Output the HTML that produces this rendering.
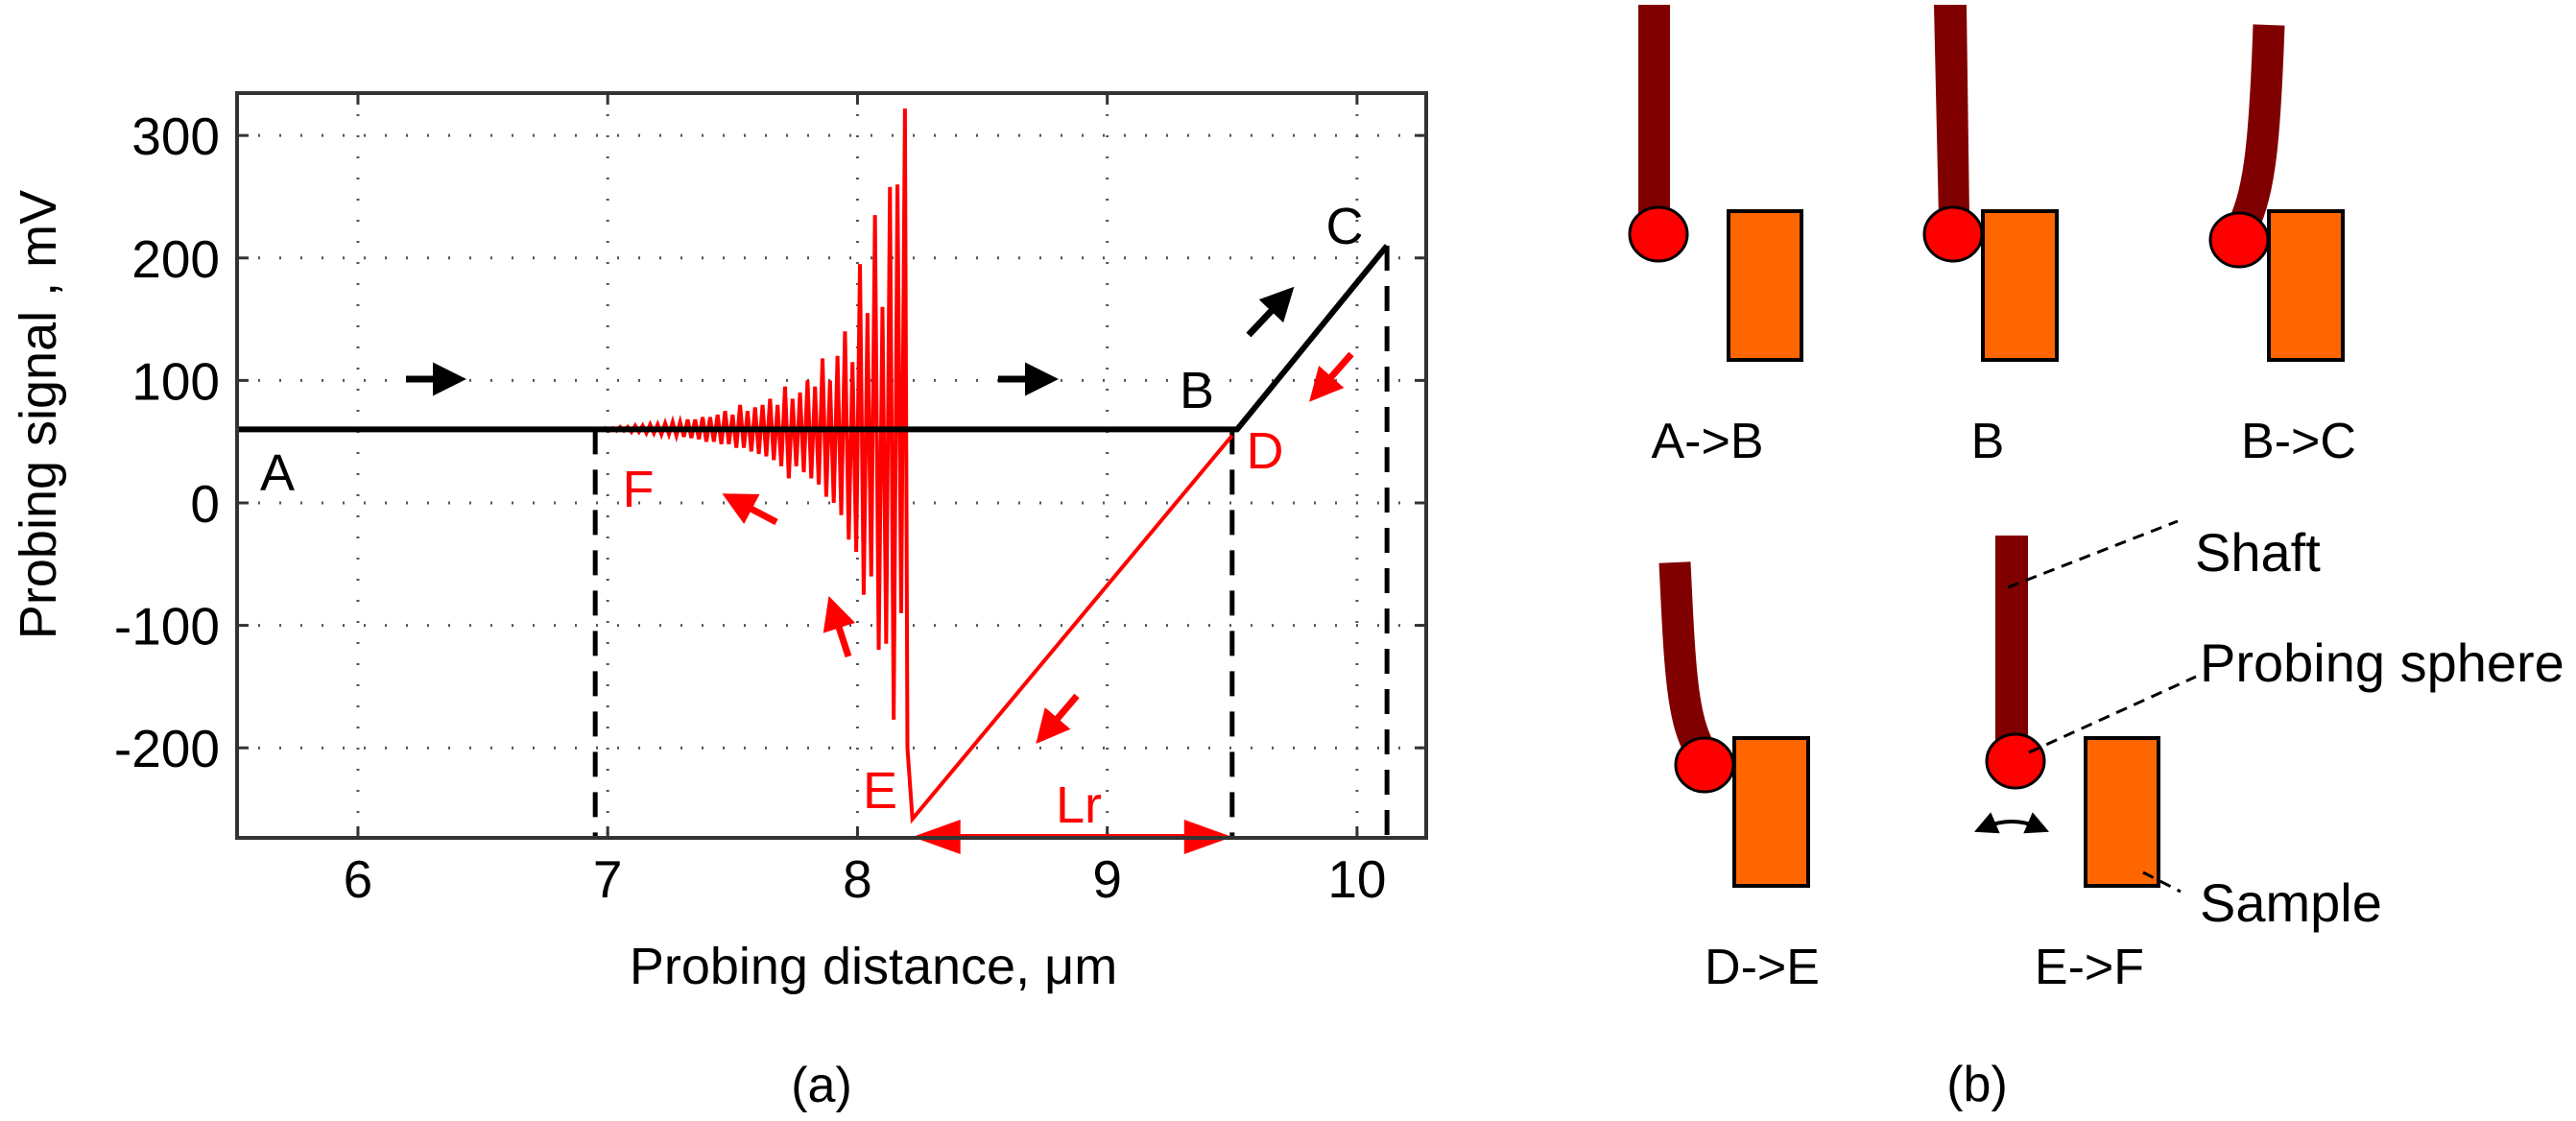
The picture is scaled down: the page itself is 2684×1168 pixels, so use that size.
<!DOCTYPE html>
<html><head><meta charset="utf-8">
<style>
html,body{margin:0;padding:0;background:#fff;}
svg{display:block;font-family:"Liberation Sans",Arial,sans-serif;}
</style></head>
<body>
<svg id="fig" width="2684" height="1168" viewBox="0 0 2684 1168" xmlns="http://www.w3.org/2000/svg">
<defs>
<marker id="ahR" markerWidth="5" markerHeight="5" refX="2" refY="2.5" orient="auto" markerUnits="strokeWidth"><path d="M0,0 L5,2.5 L0,5 z" fill="#f00"/></marker>
<marker id="ahK" markerWidth="5" markerHeight="5" refX="2" refY="2.5" orient="auto" markerUnits="strokeWidth"><path d="M0,0 L5,2.5 L0,5 z" fill="#000"/></marker>
<marker id="ahK2" markerWidth="6" markerHeight="6" refX="3" refY="3" orient="auto-start-reverse" markerUnits="strokeWidth"><path d="M0,0 L6,3 L0,6 z" fill="#000"/></marker>
</defs>
<g id="chart"></g>

<g id="panel-b">
  <g>
    <rect x="1707" y="5" width="33" height="222" fill="#800000"/>
    <ellipse cx="1728" cy="244" rx="30" ry="28" fill="#f00" stroke="#000" stroke-width="3"/>
    <rect x="1801" y="220" width="76" height="155" fill="#ff6600" stroke="#000" stroke-width="4"/>
    <text x="1779" y="477" font-size="52" text-anchor="middle">A-&gt;B</text>
  </g>
  <g>
    <path d="M2015,5 L2049,5 L2052,227 L2020,227 Z" fill="#800000"/>
    <ellipse cx="2035" cy="244" rx="30" ry="28" fill="#f00" stroke="#000" stroke-width="3"/>
    <rect x="2066" y="220" width="77" height="155" fill="#ff6600" stroke="#000" stroke-width="4"/>
    <text x="2071" y="477" font-size="52" text-anchor="middle">B</text>
  </g>
  <g>
    <path d="M2364,26 C2360,140 2355,200 2337,235" fill="none" stroke="#800000" stroke-width="33"/>
    <ellipse cx="2333" cy="250" rx="30" ry="28" fill="#f00" stroke="#000" stroke-width="3"/>
    <rect x="2364" y="220" width="77" height="155" fill="#ff6600" stroke="#000" stroke-width="4"/>
    <text x="2395" y="477" font-size="52" text-anchor="middle">B-&gt;C</text>
  </g>
  <g>
    <path d="M1745,586 C1750,690 1752,750 1772,782" fill="none" stroke="#800000" stroke-width="33"/>
    <ellipse cx="1776" cy="797" rx="30" ry="28" fill="#f00" stroke="#000" stroke-width="3"/>
    <rect x="1807" y="769" width="77" height="154" fill="#ff6600" stroke="#000" stroke-width="4"/>
    <text x="1836" y="1025" font-size="52" text-anchor="middle">D-&gt;E</text>
  </g>
  <g>
    <rect x="2079" y="558" width="34" height="222" fill="#800000"/>
    <ellipse cx="2100" cy="793" rx="30" ry="28" fill="#f00" stroke="#000" stroke-width="3"/>
    <rect x="2173" y="769" width="76" height="154" fill="#ff6600" stroke="#000" stroke-width="4"/>
    <path d="M2068,862 Q2096,850 2124,862" fill="none" stroke="#000" stroke-width="4" marker-start="url(#ahK2)" marker-end="url(#ahK2)"/>
    <text x="2177" y="1025" font-size="52" text-anchor="middle">E-&gt;F</text>
  </g>
  <line x1="2092" y1="612" x2="2269" y2="543" stroke="#000" stroke-width="3" stroke-dasharray="12,8"/>
  <line x1="2114" y1="784" x2="2288" y2="705" stroke="#000" stroke-width="3" stroke-dasharray="12,8"/>
  <line x1="2233" y1="909" x2="2272" y2="929" stroke="#000" stroke-width="3" stroke-dasharray="12,8"/>
  <text x="2287" y="595" font-size="56">Shaft</text>
  <text x="2292" y="710" font-size="56">Probing sphere</text>
  <text x="2292" y="960" font-size="56">Sample</text>
  <text x="2060" y="1147" font-size="52" text-anchor="middle">(b)</text>
</g>
</svg>
<script>
// ---- chart data ----
const xTicks = [6, 7, 8, 9, 10];
const yTicks = [-200, -100, 0, 100, 200, 300];
const approachX = [5.516, 9.52];
const approachY = [60, 60];
const pressX = [9.52, 10.12];
const pressY = [60, 210];
const retractX = [9.5, 8.22, 8.20];
const retractY = [55, -258, -200];
const oscX = [8.19,8.16,8.13,8.10,8.07,8.04,8.01,7.98,7.95,7.92,7.89,7.86,7.83,7.80,7.77,7.74,7.71,7.68,7.65,7.62,7.59,7.56,7.53,7.50,7.47,7.44,7.41,7.38,7.35,7.32,7.29,7.26,7.23,7.20,7.17,7.14,7.11,7.08,7.05,7.02,6.99,6.96];
const oscHi = [322,260,258,160,235,155,195,115,140,120,100,118,95,100,90,85,95,80,85,80,78,75,80,72,75,72,70,70,68,68,66,66,65,64,64,63,63,62,62,61,61,60];
const oscLo = [-90,-177,-115,-120,-60,-75,-40,-30,-10,0,5,15,20,25,30,20,30,35,38,40,42,45,45,48,48,50,50,52,53,54,55,56,56,57,57,58,58,59,59,59,60,60];
const dashX = [6.95, 9.5, 10.12];
const dashTop = [60, 60, 210];
const lrRange = [8.22, 9.5];

const NS = "http://www.w3.org/2000/svg";
const L = 247, R = 1486, T = 97, B = 873;
const xMin = 5.516, xMax = 10.277, yMin = -273.5, yMax = 334.6;
const X = v => L + (v - xMin) / (xMax - xMin) * (R - L);
const Y = v => B - (v - yMin) / (yMax - yMin) * (B - T);
const g = document.getElementById('chart');
function mk(tag, attrs, parent) {
  const e = document.createElementNS(NS, tag);
  for (const k in attrs) e.setAttribute(k, attrs[k]);
  (parent || g).appendChild(e);
  return e;
}
xTicks.forEach(t => {
  const l = mk('line', {x1: X(t), x2: X(t), y1: T, y2: B, stroke: '#555', 'stroke-width': 3, 'stroke-dasharray': '2,20'});
  
  
  mk('line', {x1: X(t), x2: X(t), y1: B, y2: B - 12, stroke: '#333', 'stroke-width': 3});
  mk('line', {x1: X(t), x2: X(t), y1: T, y2: T + 12, stroke: '#333', 'stroke-width': 3});
  const tx = mk('text', {x: X(t), y: B + 62, 'font-size': 55, 'text-anchor': 'middle'});
  tx.textContent = t;
  
  
});
yTicks.forEach(t => {
  const l = mk('line', {x1: L, x2: R, y1: Y(t), y2: Y(t), stroke: '#555', 'stroke-width': 3, 'stroke-dasharray': '2,20'});
  
  
  mk('line', {x1: L, x2: L + 12, y1: Y(t), y2: Y(t), stroke: '#333', 'stroke-width': 3});
  mk('line', {x1: R, x2: R - 12, y1: Y(t), y2: Y(t), stroke: '#333', 'stroke-width': 3});
  const tx = mk('text', {x: L - 18, y: Y(t) + 20, 'font-size': 55, 'text-anchor': 'end'});
  tx.textContent = t;
  
  
});
dashX.forEach((d, i) => {
  const l = mk('line', {x1: X(d), x2: X(d), y1: Y(dashTop[i]), y2: B, stroke: '#000', 'stroke-width': 5, 'stroke-dasharray': '26,16'});
  
  
});
let d = '';
retractX.forEach((x, i) => { d += (i ? ' L' : 'M') + X(x) + ',' + Y(retractY[i]); });
oscX.forEach((x, i) => {
  d += ' L' + X(x) + ',' + Y(oscHi[i]) + ' L' + X(x - 0.015) + ',' + Y(oscLo[i]);
});
const red = mk('path', {d: d, fill: 'none', stroke: '#f00', 'stroke-width': 4});


let d2 = '';
approachX.forEach((x, i) => { d2 += (i ? ' L' : 'M') + X(x) + ',' + Y(approachY[i]); });
pressX.forEach((x, i) => { d2 += ' L' + X(x) + ',' + Y(pressY[i]); });
const blk = mk('path', {d: d2, fill: 'none', stroke: '#000', 'stroke-width': 6});


const lr = mk('line', {x1: X(lrRange[0]) + 40, x2: X(lrRange[1]) - 40, y1: B - 1, y2: B - 1, stroke: '#f00', 'stroke-width': 6});


const ah1 = mk('path', {d: `M${X(lrRange[0])},${B-1} l50,-18 l0,36 z`, fill: '#f00'});


const ah2 = mk('path', {d: `M${X(lrRange[1])},${B-1} l-50,-18 l0,36 z`, fill: '#f00'});


const fr = mk('rect', {x: L, y: T, width: R - L, height: B - T, fill: 'none', stroke: '#333', 'stroke-width': 4});


const arrows = [
  [423,395,465,395,'#000'],[1040,395,1082,395,'#000'],[1301,349,1334,314,'#000'],
  [1408,369,1378,403,'#f00'],[809,544,771,524,'#f00'],[884,684,870,641,'#f00'],[1122,725,1093,759,'#f00']
];
arrows.forEach(a => {
  const l = mk('line', {x1: a[0], y1: a[1], x2: a[2], y2: a[3], stroke: a[4], 'stroke-width': 7, 'marker-end': a[4] === '#000' ? 'url(#ahK)' : 'url(#ahR)'});
  
  
});
const labels = [['A',289,492,'#000'],['B',1247,406,'#000'],['C',1401,235,'#000'],['D',1318,469,'#f00'],['E',917,823,'#f00'],['F',665,509,'#f00'],['Lr',1124,838,'#f00']];
labels.forEach(l => {
  const t = mk('text', {x: l[1], y: l[2] + 19, 'font-size': 54, 'text-anchor': 'middle', fill: l[3]});
  t.textContent = l[0];
  
  
});
const xt = mk('text', {x: 910, y: 1025, 'font-size': 54, 'text-anchor': 'middle'});
xt.textContent = 'Probing distance,  \u03bcm';


const yt = mk('text', {x: 0, y: 0, 'font-size': 54, 'text-anchor': 'middle', transform: 'translate(58,432) rotate(-90)'});
yt.textContent = 'Probing signal , mV';


const cap = mk('text', {x: 856, y: 1148, 'font-size': 52, 'text-anchor': 'middle'});
cap.textContent = '(a)';


</script>
</body></html>
